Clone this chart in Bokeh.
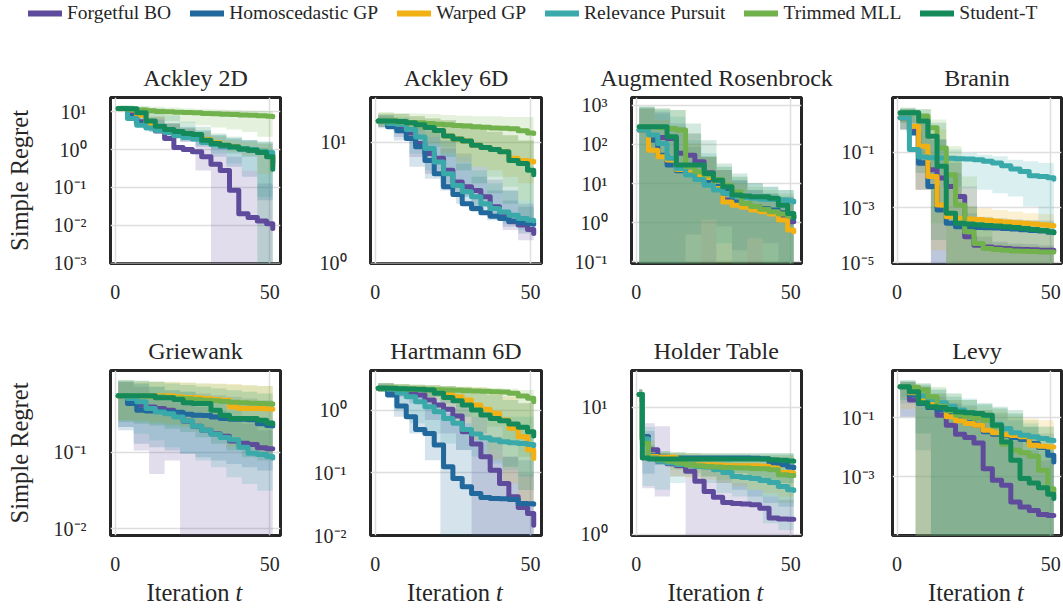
from bokeh.plotting import figure
from bokeh.layouts import column, row
from bokeh.models import (Range1d, FixedTicker, CustomJSTickFormatter,
                          Legend, LegendItem)
from bokeh.core.properties import value
from bokeh.embed import file_html
from bokeh.resources import INLINE

FONT = "Liberation Serif"
INK = "#262626"

METHODS = ["Forgetful BO", "Homoscedastic GP", "Warped GP",
           "Relevance Pursuit", "Trimmed MLL", "Student-T"]
COLORS = ["#5f4b9b", "#21689c", "#f1b014", "#3aa9a9", "#72b24c", "#148a5a"]

# iteration grids
X_MEAN = [1, 4, 7, 10, 13, 16, 19, 22, 25, 28, 31, 34, 37, 40, 43, 46, 49, 51]
X_BAND = [1, 6, 11, 16, 21, 26, 31, 36, 41, 46, 51]
HOLDER_X_MEAN = [1, 2, 4, 7, 10, 13, 16, 19, 22, 25, 28, 31, 34, 37, 40, 43, 46, 49, 51]
HOLDER_X_BAND = [1, 2, 6, 11, 16, 21, 26, 31, 36, 41, 46, 51]
X_TICKS = [0, 50]
X_LABEL = ["Iteration", "t"]

# ---------------- Ackley 2D ----------------
ackley2d_mean = {
    "Forgetful BO": [12.1, 9.3, 5.4, 4.0, 3.1, 1.95, 1.13, 1.0, 0.87, 0.64, 0.41, 0.28, 0.084, 0.020, 0.016, 0.013, 0.011, 0.0082],
    "Homoscedastic GP": [12.1, 7.6, 4.9, 3.8, 3.4, 2.9, 2.4, 2.16, 1.95, 1.6, 1.38, 1.22, 1.13, 1.04, 0.96, 0.87, 0.71, 0.47],
    "Warped GP": [12.1, 11.0, 8.1, 4.9, 3.8, 3.2, 2.8, 2.4, 2.16, 1.84, 1.50, 1.30, 1.18, 1.06, 1.0, 0.92, 0.71, 0.36],
    "Relevance Pursuit": [12.1, 6.6, 4.4, 3.7, 3.2, 2.8, 2.3, 2.07, 1.91, 1.53, 1.36, 1.22, 1.13, 1.06, 1.0, 0.92, 0.83, 0.74],
    "Trimmed MLL": [12.1, 11.6, 11.0, 10.5, 10.1, 9.9, 9.7, 9.5, 9.3, 8.9, 8.8, 8.6, 8.4, 8.2, 8.1, 7.8, 7.6, 7.3],
    "Student-T": [12.1, 11.9, 9.3, 5.7, 4.1, 3.4, 3.0, 2.65, 2.5, 1.77, 1.44, 1.30, 1.18, 1.04, 0.96, 0.83, 0.64, 0.30],
}
ackley2d_hi = {
    "Forgetful BO": [14.0, 12.1, 7.3, 4.9, 3.6, 2.16, 1.3, 0.64, 0.28, 0.126, 0.084],
    "Homoscedastic GP": [14.0, 11.0, 6.6, 4.9, 3.8, 3.2, 2.4, 1.95, 1.77, 1.44, 1.18],
    "Warped GP": [14.0, 12.9, 7.3, 4.9, 3.6, 2.9, 2.16, 1.77, 1.6, 1.44, 0.96],
    "Relevance Pursuit": [14.0, 9.9, 6.0, 4.9, 4.0, 3.2, 2.4, 1.95, 1.77, 1.6, 1.3],
    "Trimmed MLL": [14.9, 14.0, 13.4, 12.9, 12.1, 11.6, 11.4, 11.0, 10.5, 10.3, 9.9],
    "Student-T": [14.0, 13.4, 12.1, 8.1, 5.4, 4.0, 2.65, 2.16, 1.77, 1.6, 1.18],
}
ackley2d_lo = {
    "Forgetful BO": [10.5, 6.0, 3.2, 2.4, 1.6, 0.28, 1e-6, 1e-6, 1e-6, 1e-6, 1e-6],
    "Homoscedastic GP": [10.5, 4.9, 2.9, 2.16, 1.6, 1.18, 0.64, 0.35, 0.19, 0.046, 0.004],
    "Warped GP": [10.5, 7.3, 4.0, 2.9, 2.16, 1.77, 1.18, 0.87, 0.71, 0.23, 0.031],
    "Relevance Pursuit": [10.5, 4.0, 2.9, 2.4, 1.77, 1.3, 0.78, 0.43, 0.28, 0.056, 0.0049],
    "Trimmed MLL": [9.9, 8.1, 6.6, 5.7, 5.1, 4.4, 3.8, 3.4, 2.9, 2.16, 0.046],
    "Student-T": [10.5, 8.1, 4.9, 3.2, 2.16, 1.6, 1.06, 0.78, 0.64, 1e-6, 1e-6],
}

# ---------------- Ackley 6D ----------------
ackley6d_mean = {
    "Forgetful BO": [15.1, 14.1, 13.5, 12.0, 9.8, 8.1, 7.4, 5.9, 4.7, 4.3, 4.0, 3.55, 2.93, 2.5, 2.2, 2.07, 1.9, 1.76],
    "Homoscedastic GP": [15.1, 13.5, 12.5, 10.8, 9.2, 7.1, 5.5, 4.3, 3.7, 3.1, 2.84, 2.61, 2.45, 2.34, 2.24, 2.16, 2.13, 2.1],
    "Warped GP": [15.1, 15.1, 14.9, 14.6, 14.0, 13.3, 12.6, 11.3, 10.7, 10.3, 9.5, 9.1, 8.75, 8.4, 7.4, 7.1, 7.0, 6.9],
    "Relevance Pursuit": [15.1, 14.4, 14.1, 12.8, 11.1, 8.9, 6.9, 5.5, 4.4, 3.9, 3.55, 3.1, 2.84, 2.66, 2.5, 2.34, 2.27, 2.24],
    "Trimmed MLL": [15.1, 15.0, 14.8, 14.6, 14.6, 14.4, 14.2, 14.0, 13.8, 13.7, 13.5, 13.4, 13.2, 13.1, 13.0, 12.5, 12.0, 11.9],
    "Student-T": [15.1, 15.1, 14.9, 14.6, 14.0, 13.3, 12.6, 11.3, 10.7, 10.3, 9.5, 9.1, 8.75, 8.4, 7.1, 6.7, 5.9, 5.4],
}
ackley6d_hi = {
    "Forgetful BO": [16.9, 15.8, 14.4, 12.6, 10.4, 8.1, 6.3, 4.9, 4.0, 3.1, 2.75],
    "Homoscedastic GP": [16.5, 15.3, 13.5, 11.1, 8.9, 6.7, 5.2, 4.0, 3.3, 2.93, 2.75],
    "Warped GP": [17.4, 17.2, 16.5, 15.8, 15.3, 14.4, 13.5, 12.3, 11.5, 10.4, 8.6],
    "Relevance Pursuit": [16.9, 16.3, 14.8, 13.1, 10.4, 7.6, 5.9, 4.6, 4.0, 3.3, 2.93],
    "Trimmed MLL": [17.9, 17.6, 17.4, 17.2, 16.9, 16.7, 16.5, 16.5, 16.3, 16.3, 16.3],
    "Student-T": [17.4, 17.2, 16.5, 15.8, 15.3, 14.4, 13.1, 12.3, 11.5, 10.4, 8.6],
}
ackley6d_lo = {
    "Forgetful BO": [13.5, 11.1, 7.6, 5.5, 4.3, 3.55, 2.93, 2.42, 1.88, 1.55, 1.36],
    "Homoscedastic GP": [13.1, 10.4, 6.3, 5.0, 4.0, 3.1, 2.66, 2.27, 2.0, 1.76, 1.55],
    "Warped GP": [13.5, 12.6, 11.5, 9.8, 8.1, 6.9, 6.3, 5.9, 5.2, 4.6, 4.0],
    "Relevance Pursuit": [13.5, 11.9, 8.1, 5.9, 4.6, 3.55, 2.93, 2.42, 2.13, 1.88, 0.9],
    "Trimmed MLL": [14.4, 13.5, 12.6, 11.1, 9.2, 7.6, 6.3, 5.2, 4.3, 3.3, 0.9],
    "Student-T": [13.5, 12.6, 11.1, 9.2, 7.6, 5.9, 4.6, 3.8, 3.1, 2.13, 0.9],
}

# ---------------- Augmented Rosenbrock ----------------
rosen_mean = {
    "Forgetful BO": [231, 156, 150, 141, 59, 53, 36, 18.8, 8.3, 3.8, 3.1, 2.7, 2.3, 2.1, 1.9, 1.43, 1.06, 1.06],
    "Homoscedastic GP": [231, 128, 53, 29.6, 21.2, 18.1, 15.5, 11.1, 8.3, 6.8, 3.4, 2.8, 2.6, 2.3, 2.1, 1.8, 1.48, 1.29],
    "Warped GP": [231, 71, 48, 40, 22.9, 18.8, 16.4, 14.3, 7.5, 3.4, 2.8, 2.5, 2.1, 1.9, 1.67, 1.17, 0.65, 0.59],
    "Relevance Pursuit": [231, 172, 105, 44, 24.3, 16.4, 12.7, 9.1, 6.8, 5.6, 4.8, 4.4, 4.2, 4.0, 3.9, 3.8, 3.6, 3.4],
    "Trimmed MLL": [281, 281, 270, 254, 231, 26.8, 20.0, 16.4, 12.7, 9.1, 6.2, 3.1, 2.6, 2.2, 1.9, 1.67, 1.48, 1.37],
    "Student-T": [281, 281, 281, 156, 29.6, 29.6, 29.6, 18.1, 12.2, 8.3, 5.1, 4.8, 4.6, 4.6, 4.2, 2.8, 1.73, 1.34],
}
rosen_hi = {
    "Forgetful BO": [822, 677, 341, 190, 48, 22.0, 12.2, 6.8, 5.6, 4.6, 3.8],
    "Homoscedastic GP": [822, 614, 281, 87, 48, 22.0, 12.2, 6.8, 5.6, 4.6, 3.8],
    "Warped GP": [822, 415, 231, 105, 48, 22.0, 10.1, 4.6, 3.8, 3.1, 2.6],
    "Relevance Pursuit": [907, 747, 505, 128, 59, 26.8, 14.9, 10.1, 8.3, 6.8, 6.8],
    "Trimmed MLL": [907, 822, 747, 190, 48, 26.8, 14.9, 8.3, 6.8, 5.6, 4.6],
    "Student-T": [907, 822, 747, 341, 128, 32.6, 18.1, 10.1, 8.3, 6.8, 6.8],
}
rosen_lo = {
    "Forgetful BO": [0.01, 0.01, 0.01, 0.01, 0.01, 0.8, 0.01, 0.01, 0.3, 0.01, 0.01],
    "Homoscedastic GP": [0.01, 0.01, 0.01, 0.5, 0.01, 0.01, 0.2, 0.01, 0.01, 0.01, 0.01],
    "Warped GP": [0.01, 0.01, 0.01, 0.01, 0.01, 0.01, 0.01, 0.01, 0.01, 0.01, 0.01],
    "Relevance Pursuit": [0.01, 0.01, 0.01, 0.01, 1.2, 0.3, 0.01, 0.4, 0.01, 0.01, 0.01],
    "Trimmed MLL": [0.01, 0.01, 0.01, 0.01, 0.01, 0.01, 0.01, 0.01, 0.01, 0.01, 0.01],
    "Student-T": [0.01, 0.01, 0.01, 0.01, 0.01, 0.01, 0.01, 0.01, 0.01, 0.01, 0.01],
}

# ---------------- Branin ----------------
branin_mean = {
    "Forgetful BO": [1.77, 0.58, 0.0409, 0.0234, 0.0117, 0.0058, 0.0025, 8.8e-5, 4.4e-5, 3.8e-5, 3.5e-5, 3.3e-5, 3.1e-5, 3.05e-5, 2.97e-5, 2.89e-5, 2.89e-5, 2.89e-5],
    "Homoscedastic GP": [1.77, 0.50, 0.0409, 0.0058, 8.2e-4, 2.7e-4, 2.04e-4, 1.98e-4, 1.93e-4, 1.88e-4, 1.82e-4, 1.77e-4, 1.67e-4, 1.58e-4, 1.5e-4, 1.42e-4, 1.3e-4, 1.23e-4],
    "Warped GP": [1.77, 0.88, 0.165, 0.0134, 0.00125, 4.7e-4, 4.1e-4, 3.9e-4, 3.7e-4, 3.5e-4, 3.2e-4, 3.0e-4, 2.85e-4, 2.7e-4, 2.55e-4, 2.4e-4, 2.28e-4, 2.15e-4],
    "Relevance Pursuit": [1.77, 0.125, 0.0676, 0.064, 0.0622, 0.0605, 0.0589, 0.0573, 0.0541, 0.0471, 0.0409, 0.0327, 0.0248, 0.0204, 0.0142, 0.0134, 0.012, 0.0107],
    "Trimmed MLL": [2.69, 2.69, 2.04, 0.77, 0.144, 0.0154, 0.00125, 1.34e-4, 5.0e-5, 3.3e-5, 3.05e-5, 2.89e-5, 2.73e-5, 2.66e-5, 2.58e-5, 2.51e-5, 2.51e-5, 2.51e-5],
    "Student-T": [2.69, 2.69, 1.34, 0.38, 0.031, 6.2e-4, 2.7e-4, 2.55e-4, 2.4e-4, 2.28e-4, 2.15e-4, 2.04e-4, 1.93e-4, 1.77e-4, 1.63e-4, 1.5e-4, 1.34e-4, 1.23e-4],
}
branin_hi = {
    "Forgetful BO": [3.56, 1.54, 0.29, 0.0409, 0.0058, 8.8e-5, 5.8e-5, 5.0e-5, 4.8e-5, 4.4e-5, 4.4e-5],
    "Homoscedastic GP": [3.56, 1.77, 0.29, 0.0177, 6.2e-4, 4.7e-4, 4.1e-4, 3.8e-4, 3.6e-4, 3.4e-4, 3.2e-4],
    "Warped GP": [3.56, 2.04, 0.667, 0.0716, 0.00109, 9.5e-4, 8.2e-4, 7.2e-4, 6.2e-4, 5.9e-4, 5.4e-4],
    "Relevance Pursuit": [3.56, 1.17, 0.29, 0.125, 0.0946, 0.0822, 0.0716, 0.0541, 0.0471, 0.0409, 0.0357],
    "Trimmed MLL": [4.1, 3.56, 1.54, 0.165, 0.0134, 2.7e-4, 5.0e-5, 4.4e-5, 4.0e-5, 3.8e-5, 3.8e-5],
    "Student-T": [4.1, 3.56, 1.17, 0.0716, 0.00109, 4.1e-4, 3.6e-4, 3.4e-4, 3.2e-4, 2.9e-4, 2.7e-4],
}
branin_lo = {
    "Forgetful BO": [0.667, 0.0044, 1e-6, 1e-6, 1e-6, 1e-6, 1e-6, 1e-6, 1e-6, 1e-6, 1e-6],
    "Homoscedastic GP": [0.667, 0.0044, 1e-6, 1e-6, 1e-6, 1e-6, 1e-6, 1e-6, 1e-6, 1e-6, 1e-6],
    "Warped GP": [0.667, 0.0044, 2.9e-5, 1e-6, 1e-6, 1e-6, 1e-6, 1e-6, 1e-6, 1e-6, 1e-6],
    "Relevance Pursuit": [0.667, 0.031, 0.0101, 0.0058, 0.00505, 0.0044, 0.0033, 0.0025, 0.00109, 2.7e-4, 1.54e-4],
    "Trimmed MLL": [1.17, 0.0716, 2.7e-4, 1e-6, 1e-6, 1e-6, 1e-6, 1e-6, 1e-6, 1e-6, 1e-6],
    "Student-T": [1.17, 0.0177, 6.7e-5, 1e-6, 1e-6, 1e-6, 1e-6, 1e-6, 1e-6, 1e-6, 1e-6],
}

# ---------------- Griewank ----------------
griewank_mean = {
    "Forgetful BO": [0.546, 0.504, 0.411, 0.391, 0.372, 0.353, 0.303, 0.254, 0.218, 0.193, 0.174, 0.161, 0.140, 0.131, 0.126, 0.114, 0.111, 0.111],
    "Homoscedastic GP": [0.546, 0.433, 0.353, 0.346, 0.340, 0.336, 0.333, 0.313, 0.303, 0.301, 0.289, 0.275, 0.269, 0.269, 0.266, 0.236, 0.224, 0.220],
    "Warped GP": [0.546, 0.546, 0.546, 0.546, 0.546, 0.546, 0.530, 0.519, 0.514, 0.504, 0.489, 0.479, 0.391, 0.372, 0.372, 0.372, 0.368, 0.364],
    "Relevance Pursuit": [0.546, 0.504, 0.455, 0.372, 0.336, 0.319, 0.289, 0.256, 0.218, 0.193, 0.171, 0.155, 0.145, 0.116, 0.097, 0.093, 0.088, 0.084],
    "Trimmed MLL": [0.546, 0.546, 0.546, 0.540, 0.530, 0.519, 0.508, 0.498, 0.489, 0.479, 0.469, 0.459, 0.451, 0.442, 0.437, 0.433, 0.429, 0.424],
    "Student-T": [0.546, 0.546, 0.546, 0.546, 0.514, 0.514, 0.489, 0.442, 0.433, 0.433, 0.353, 0.303, 0.275, 0.275, 0.275, 0.261, 0.241, 0.231],
}
griewank_hi = {
    "Forgetful BO": [0.834, 0.716, 0.586, 0.479, 0.433, 0.391, 0.353, 0.289, 0.236, 0.193, 0.174],
    "Homoscedastic GP": [0.834, 0.793, 0.716, 0.647, 0.615, 0.586, 0.557, 0.530, 0.504, 0.479, 0.433],
    "Warped GP": [0.834, 0.834, 0.834, 0.834, 0.817, 0.793, 0.793, 0.776, 0.754, 0.731, 0.716],
    "Relevance Pursuit": [0.834, 0.793, 0.716, 0.647, 0.615, 0.530, 0.433, 0.353, 0.289, 0.261, 0.213],
    "Trimmed MLL": [0.877, 0.859, 0.834, 0.817, 0.809, 0.793, 0.776, 0.762, 0.746, 0.731, 0.716],
    "Student-T": [0.877, 0.859, 0.834, 0.793, 0.754, 0.716, 0.681, 0.647, 0.615, 0.586, 0.557],
}
griewank_lo = {
    "Forgetful BO": [0.213, 0.105, 0.0519, 0.078, 1e-6, 1e-6, 1e-6, 1e-6, 1e-6, 1e-6, 1e-6],
    "Homoscedastic GP": [0.193, 0.129, 0.116, 0.105, 0.095, 0.086, 0.078, 0.070, 0.0635, 0.0574, 0.0519],
    "Warped GP": [0.261, 0.261, 0.248, 0.236, 0.224, 0.193, 0.157, 0.116, 0.105, 0.095, 0.086],
    "Relevance Pursuit": [0.213, 0.174, 0.143, 0.116, 0.095, 0.078, 0.0635, 0.0469, 0.0383, 0.0313, 0.0189],
    "Trimmed MLL": [0.261, 0.248, 0.236, 0.224, 0.213, 0.193, 0.174, 0.143, 0.116, 0.105, 0.086],
    "Student-T": [0.248, 0.236, 0.224, 0.203, 0.183, 0.157, 0.129, 0.105, 0.086, 0.078, 0.070],
}

# ---------------- Hartmann 6D ----------------
hartmann_mean = {
    "Forgetful BO": [2.22, 2.03, 1.89, 1.85, 1.74, 1.44, 1.20, 1.03, 0.802, 0.451, 0.287, 0.180, 0.110, 0.0676, 0.0414, 0.0280, 0.0224, 0.0146],
    "Homoscedastic GP": [2.22, 1.74, 1.16, 0.783, 0.491, 0.424, 0.276, 0.125, 0.0812, 0.0598, 0.0468, 0.0404, 0.0389, 0.0385, 0.0375, 0.0324, 0.0320, 0.0316],
    "Warped GP": [2.22, 2.22, 2.19, 2.16, 2.14, 2.11, 1.99, 1.78, 1.63, 1.44, 1.20, 1.03, 0.885, 0.692, 0.510, 0.375, 0.230, 0.169],
    "Relevance Pursuit": [2.22, 2.14, 1.89, 1.63, 1.36, 1.13, 0.94, 0.736, 0.613, 0.491, 0.414, 0.362, 0.332, 0.313, 0.301, 0.294, 0.283, 0.270],
    "Trimmed MLL": [2.22, 2.22, 2.19, 2.16, 2.14, 2.14, 2.11, 2.08, 2.06, 2.03, 2.01, 1.99, 1.96, 1.94, 1.85, 1.67, 1.54, 1.36],
    "Student-T": [2.22, 2.22, 2.19, 2.16, 2.14, 2.08, 1.85, 1.59, 1.41, 1.20, 1.0, 0.832, 0.736, 0.676, 0.598, 0.529, 0.451, 0.385],
}
hartmann_hi = {
    "Forgetful BO": [2.66, 2.36, 2.22, 2.08, 1.74, 1.28, 0.783, 0.375, 0.180, 0.0975, 0.0676],
    "Homoscedastic GP": [2.50, 2.08, 1.63, 1.28, 0.885, 0.613, 0.375, 0.230, 0.180, 0.159, 0.159],
    "Warped GP": [2.66, 2.60, 2.54, 2.48, 2.42, 2.36, 2.30, 2.14, 1.63, 1.28, 1.0],
    "Relevance Pursuit": [2.66, 2.50, 2.22, 1.85, 1.44, 1.20, 1.0, 0.885, 0.783, 0.783, 0.783],
    "Trimmed MLL": [2.66, 2.60, 2.54, 2.48, 2.42, 2.36, 2.30, 2.24, 2.19, 2.08, 1.96],
    "Student-T": [2.66, 2.60, 2.54, 2.48, 2.42, 2.30, 1.96, 1.74, 1.44, 1.28, 1.06],
}
hartmann_lo = {
    "Forgetful BO": [1.96, 1.63, 1.28, 0.692, 0.424, 0.230, 1e-6, 1e-6, 1e-6, 1e-6, 1e-6],
    "Homoscedastic GP": [1.96, 0.783, 0.424, 0.159, 1e-6, 1e-6, 1e-6, 1e-6, 1e-6, 1e-6, 1e-6],
    "Warped GP": [1.96, 1.85, 1.74, 1.44, 1.0, 0.613, 0.332, 0.159, 0.0676, 0.0324, 0.0199],
    "Relevance Pursuit": [1.96, 1.0, 0.613, 0.424, 0.294, 0.230, 0.180, 0.141, 0.110, 0.0863, 0.0676],
    "Trimmed MLL": [1.96, 1.85, 1.74, 1.63, 1.44, 1.13, 0.783, 0.542, 0.332, 0.180, 0.0863],
    "Student-T": [1.96, 1.85, 1.74, 1.63, 1.28, 0.783, 0.424, 0.230, 0.125, 0.0529, 0.0254],
}

# ---------------- Holder Table ----------------
holder_mean = {
    "Forgetful BO": [12.6, 5.6, 4.63, 3.75, 3.59, 3.46, 3.13, 2.61, 2.17, 1.96, 1.78, 1.75, 1.73, 1.71, 1.60, 1.34, 1.32, 1.31, 1.31],
    "Homoscedastic GP": [12.6, 5.9, 4.15, 4.05, 4.01, 3.98, 3.98, 3.98, 3.98, 3.98, 3.98, 3.98, 3.98, 3.96, 3.94, 3.64, 3.52, 3.38, 3.32],
    "Warped GP": [12.6, 5.6, 4.10, 4.05, 4.05, 3.86, 3.52, 3.52, 3.52, 3.51, 3.48, 3.46, 3.46, 3.46, 3.44, 3.32, 3.07, 3.05, 3.03],
    "Relevance Pursuit": [12.6, 5.6, 3.98, 3.75, 3.64, 3.55, 3.51, 3.42, 3.38, 3.22, 3.07, 2.85, 2.80, 2.75, 2.65, 2.56, 2.38, 2.24, 2.21],
    "Trimmed MLL": [12.6, 5.2, 3.98, 3.86, 3.75, 3.64, 3.52, 3.46, 3.42, 3.38, 3.36, 3.34, 3.32, 3.30, 3.28, 3.22, 2.94, 2.90, 2.89],
    "Student-T": [12.6, 3.98, 3.91, 3.91, 3.91, 3.91, 3.91, 3.91, 3.91, 3.91, 3.91, 3.91, 3.91, 3.91, 3.91, 3.86, 3.82, 3.77, 3.75],
}
holder_hi = {
    "Forgetful BO": [13.8, 7.5, 7.08, 4.10, 3.86, 3.64, 3.03, 2.53, 2.24, 1.98, 1.87, 1.76],
    "Homoscedastic GP": [13.8, 6.5, 4.36, 4.31, 4.23, 4.23, 4.23, 4.23, 4.23, 4.23, 4.23, 4.23],
    "Warped GP": [13.8, 5.5, 4.36, 4.36, 4.31, 4.23, 4.15, 4.10, 4.10, 4.10, 4.10, 3.98],
    "Relevance Pursuit": [13.8, 7.0, 4.36, 4.10, 3.98, 3.86, 3.75, 3.64, 3.42, 3.22, 3.03, 2.85],
    "Trimmed MLL": [13.8, 5.0, 4.50, 4.42, 4.36, 4.31, 4.31, 4.31, 4.31, 4.31, 4.31, 4.31],
    "Student-T": [13.8, 5.0, 4.50, 4.42, 4.36, 4.36, 4.36, 4.36, 4.36, 4.36, 4.36, 4.36],
}
holder_lo = {
    "Forgetful BO": [11.0, 2.3, 1.98, 2.85, 0.9, 0.9, 0.9, 0.9, 0.9, 0.9, 0.9, 0.9],
    "Homoscedastic GP": [11.0, 3.0, 3.52, 3.42, 3.22, 2.85, 2.53, 2.24, 1.98, 1.76, 1.65, 1.56],
    "Warped GP": [11.0, 3.8, 3.64, 2.85, 2.77, 2.69, 2.53, 2.38, 2.24, 2.11, 1.98, 1.87],
    "Relevance Pursuit": [11.0, 2.4, 2.24, 2.53, 2.85, 2.53, 2.11, 1.98, 1.76, 1.22, 1.08, 0.9],
    "Trimmed MLL": [11.0, 4.0, 3.64, 3.22, 3.03, 2.85, 2.69, 2.53, 2.24, 1.98, 1.76, 1.65],
    "Student-T": [11.0, 4.0, 3.52, 3.42, 3.32, 3.22, 3.13, 3.03, 2.85, 2.69, 2.53, 2.38],
}

# ---------------- Levy ----------------
levy_mean = {
    "Forgetful BO": [1.12, 0.397, 0.306, 0.224, 0.123, 0.0564, 0.0279, 0.0215, 0.0142, 0.00191, 7.7e-4, 5.2e-4, 1.42e-4, 9.6e-5, 7.4e-5, 5.4e-5, 5.0e-5, 5.0e-5],
    "Homoscedastic GP": [1.12, 0.586, 0.306, 0.224, 0.182, 0.140, 0.0949, 0.0678, 0.0564, 0.0335, 0.0279, 0.0252, 0.0215, 0.0185, 0.0135, 0.00987, 0.00542, 0.00322],
    "Warped GP": [1.12, 0.703, 0.418, 0.306, 0.236, 0.108, 0.0791, 0.0643, 0.0564, 0.0382, 0.0310, 0.0265, 0.0252, 0.0227, 0.0118, 0.0110, 0.0104, 0.0104],
    "Relevance Pursuit": [1.12, 0.760, 0.542, 0.418, 0.322, 0.248, 0.182, 0.148, 0.123, 0.0949, 0.0610, 0.0435, 0.0310, 0.0258, 0.0227, 0.0199, 0.0175, 0.0166],
    "Trimmed MLL": [1.12, 1.07, 0.867, 0.515, 0.248, 0.173, 0.123, 0.108, 0.0949, 0.0834, 0.0522, 0.0128, 0.00802, 0.00652, 0.00502, 0.00168, 4.0e-4, 3.1e-4],
    "Student-T": [1.12, 0.760, 0.322, 0.236, 0.224, 0.191, 0.156, 0.148, 0.140, 0.123, 0.0564, 0.0153, 0.00367, 8.8e-4, 6.3e-4, 4.3e-4, 2.6e-4, 1.85e-4],
}
levy_hi = {
    "Forgetful BO": [1.66, 1.12, 0.515, 0.306, 0.182, 0.108, 0.0495, 0.0175, 0.00802, 0.00367, 0.00283],
    "Homoscedastic GP": [1.66, 1.12, 0.668, 0.397, 0.268, 0.182, 0.140, 0.0834, 0.0495, 0.0294, 0.0227],
    "Warped GP": [1.66, 1.12, 0.668, 0.397, 0.236, 0.182, 0.160, 0.108, 0.0949, 0.0834, 0.0643],
    "Relevance Pursuit": [1.66, 1.28, 0.986, 0.668, 0.452, 0.306, 0.207, 0.140, 0.0643, 0.0495, 0.0435],
    "Trimmed MLL": [1.66, 1.46, 1.12, 0.668, 0.397, 0.268, 0.207, 0.140, 0.0834, 0.0495, 0.0227],
    "Student-T": [1.89, 1.46, 0.867, 0.515, 0.397, 0.306, 0.236, 0.182, 0.0495, 0.00802, 0.00367],
}
levy_lo = {
    "Forgetful BO": [0.108, 1e-6, 1e-6, 1e-6, 1e-6, 1e-6, 1e-6, 1e-6, 1e-6, 1e-6, 1e-6],
    "Homoscedastic GP": [0.108, 0.00802, 1e-6, 1e-6, 1e-6, 1e-6, 1e-6, 1e-6, 1e-6, 1e-6, 1e-6],
    "Warped GP": [0.2, 1e-6, 1e-6, 1e-6, 1e-6, 1e-6, 1e-6, 1e-6, 1e-6, 1e-6, 1e-6],
    "Relevance Pursuit": [0.306, 1e-6, 1e-6, 1e-6, 1e-6, 1e-6, 1e-6, 1e-6, 1e-6, 1e-6, 1e-6],
    "Trimmed MLL": [0.515, 1e-6, 1e-6, 1e-6, 1e-6, 1e-6, 1e-6, 1e-6, 1e-6, 1e-6, 1e-6],
    "Student-T": [0.397, 0.0294, 1e-6, 1e-6, 1e-6, 1e-6, 1e-6, 1e-6, 1e-6, 1e-6, 1e-6],
}

# panel: title, mean, lo, hi, x grids, y-range exponents, y ticks
PANELS = [
    ("Ackley 2D", ackley2d_mean, ackley2d_lo, ackley2d_hi, X_MEAN, X_BAND, (-3.01, 1.374), [1e-3, 1e-2, 1e-1, 1, 10]),
    ("Ackley 6D", ackley6d_mean, ackley6d_lo, ackley6d_hi, X_MEAN, X_BAND, (-0.003, 1.373), [1, 10]),
    ("Augmented Rosenbrock", rosen_mean, rosen_lo, rosen_hi, X_MEAN, X_BAND, (-1.04, 3.195), [0.1, 1, 10, 100, 1000]),
    ("Branin", branin_mean, branin_lo, branin_hi, X_MEAN, X_BAND, (-5.02, 0.98), [1e-5, 1e-3, 1e-1]),
    ("Griewank", griewank_mean, griewank_lo, griewank_hi, X_MEAN, X_BAND, (-2.09, 0.068), [1e-2, 1e-1]),
    ("Hartmann 6D", hartmann_mean, hartmann_lo, hartmann_hi, X_MEAN, X_BAND, (-2.0, 0.63), [1e-2, 1e-1, 1]),
    ("Holder Table", holder_mean, holder_lo, holder_hi, HOLDER_X_MEAN, HOLDER_X_BAND, (-0.01, 1.29), [1, 10]),
    ("Levy", levy_mean, levy_lo, levy_hi, X_MEAN, X_BAND, (-4.98, 0.6), [1e-5, 1e-3, 1e-1]),
]

# layout (pixels)
LEFTS = [110, 80, 80, 56]
RIGHTS = [10, 10, 35, 2]
FRAME_W = [170, 171, 170, 169]
Y_STANDOFF = [18, 18, 18, 12]
ROW_TOP = [57, 57]
ROW_FRAME_H = [166, 165]
ROW_BOTTOM = [50, 44]
LEGEND_H = 40
XLABEL_H = 30
BAND_ALPHA = 0.19

sup_fmt = CustomJSTickFormatter(code=r"""
const sup = {"0":"\u2070","1":"\u00b9","2":"\u00b2","3":"\u00b3","4":"\u2074",
             "5":"\u2075","6":"\u2076","7":"\u2077","8":"\u2078","9":"\u2079","-":"\u207b"};
const e = Math.round(Math.log10(tick));
return "10" + String(e).split("").map(c => sup[c]).join("");
""")


def make_panel(idx):
    title, mean, lo, hi, xm, xb, (ylo, yhi), yticks = PANELS[idx]
    r, c = divmod(idx, 4)
    p = figure(width=LEFTS[c] + FRAME_W[c] + RIGHTS[c],
               height=ROW_TOP[r] + ROW_FRAME_H[r] + ROW_BOTTOM[r],
               x_range=Range1d(-1.5, 53.5),
               y_range=Range1d(10 ** ylo, 10 ** yhi),
               y_axis_type="log", output_backend="svg", toolbar_location=None,
               min_border_left=LEFTS[c], min_border_right=RIGHTS[c],
               min_border_top=ROW_TOP[r], min_border_bottom=ROW_BOTTOM[r],
               title=title)
    p.title.text_font = FONT
    p.title.text_font_size = "24px"
    p.title.text_font_style = "normal"
    p.title.text_color = INK
    p.title.align = "center"
    p.title.standoff = 14

    p.outline_line_color = INK
    p.outline_line_width = 3
    p.outline_line_alpha = 1.0
    p.background_fill_color = "white"
    p.border_fill_color = "white"

    p.xaxis.ticker = FixedTicker(ticks=X_TICKS)
    p.yaxis.ticker = FixedTicker(ticks=yticks)
    p.yaxis.formatter = sup_fmt
    p.xgrid.ticker = FixedTicker(ticks=X_TICKS)
    p.ygrid.ticker = FixedTicker(ticks=yticks)
    p.grid.grid_line_color = "#dedede"
    p.grid.grid_line_width = 1.5

    for ax in (p.xaxis, p.yaxis):
        ax.axis_line_color = None
        ax.major_tick_line_color = None
        ax.minor_tick_line_color = None
        ax.major_label_text_font = FONT
        ax.major_label_text_font_size = "20px"
        ax.major_label_text_color = INK
    p.xaxis.major_label_standoff = 15
    p.yaxis.major_label_standoff = Y_STANDOFF[c]

    if c == 0:
        p.yaxis.axis_label = "Simple Regret"
        p.yaxis.axis_label_text_font = FONT
        p.yaxis.axis_label_text_font_size = "24.5px"
        p.yaxis.axis_label_text_font_style = "normal"
        p.yaxis.axis_label_text_color = INK
        p.yaxis.axis_label_standoff = 18

    for m, col in zip(METHODS, COLORS):
        p.varea_step(x=xb, y1=lo[m], y2=hi[m], step_mode="after",
                     fill_color=col, fill_alpha=BAND_ALPHA)
    for m, col in zip(METHODS, COLORS):
        p.step(x=xm, y=mean[m], mode="after", line_color=col, line_width=5,
               line_cap="round", line_join="round")
    return p


figs = [make_panel(i) for i in range(8)]

# legend strip (dummy one-point NaN renderers carry the legend glyphs)
lf = figure(width=1063, height=LEGEND_H, x_range=Range1d(0, 1), y_range=Range1d(0, 1),
            output_backend="svg", toolbar_location=None, min_border=0)
lf.axis.visible = False
lf.grid.visible = False
lf.outline_line_color = None
items = []
for m, col in zip(METHODS, COLORS):
    rr = lf.line(x=[float("nan")], y=[float("nan")], line_color=col,
                 line_width=6, line_cap="round")
    items.append(LegendItem(label=m, renderers=[rr]))
leg = Legend(items=items, orientation="horizontal", location=(28, 16),
             glyph_width=34, glyph_height=20, label_standoff=5, spacing=19,
             padding=0, margin=0, border_line_color=None, background_fill_alpha=0,
             label_text_font=FONT, label_text_font_size="19.5px",
             label_text_color=INK)
lf.add_layout(leg)

# x-axis label strip under the bottom row: "Iteration" + italic "t"
xl = figure(width=1063, height=XLABEL_H, x_range=Range1d(0, 1063),
            y_range=Range1d(XLABEL_H, 0), output_backend="svg",
            toolbar_location=None, min_border=0)
xl.axis.visible = False
xl.grid.visible = False
xl.outline_line_color = None
centers = []
acc = 0
for c in range(4):
    centers.append(acc + LEFTS[c] + FRAME_W[c] / 2)
    acc += LEFTS[c] + FRAME_W[c] + RIGHTS[c]
xl.text(x=[cx + 34 for cx in centers], y=[12.7] * 4, text=[X_LABEL[0]] * 4,
        text_align="right", text_baseline="middle", text_font=value(FONT),
        text_font_size="24.5px", text_color=INK)
xl.text(x=[cx + 40 for cx in centers], y=[12.7] * 4, text=[X_LABEL[1]] * 4,
        text_align="left", text_baseline="middle", text_font=value(FONT),
        text_font_style=value("italic"), text_font_size="24.5px", text_color=INK)

layout = column(lf, row(*figs[:4]), row(*figs[4:]), xl)
open("out.html", "w").write(file_html(layout, INLINE))
